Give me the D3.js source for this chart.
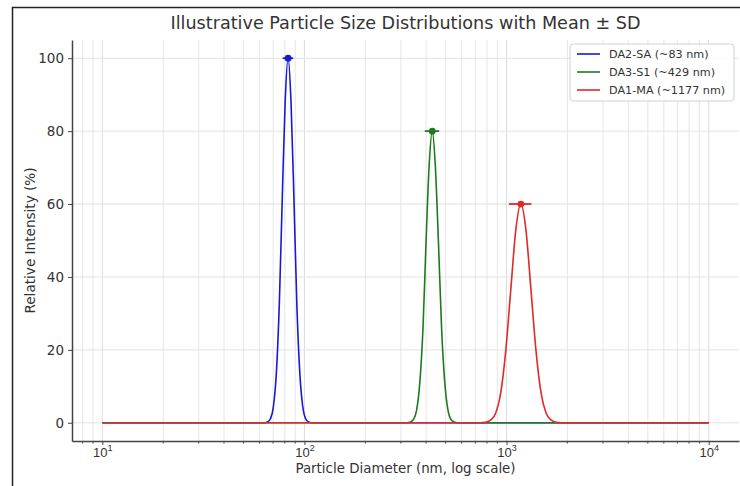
<!DOCTYPE html>
<html>
<head>
<meta charset="utf-8">
<script src="https://cdn.jsdelivr.net/npm/d3@7"></script>
<style>
  body { margin: 0; background: #fff; }
  svg { font-family: "DejaVu Sans", sans-serif; }
</style>
</head>
<body>
<div id="chart"></div>
<script>
// series names and colors
const seriesNames = ["DA2-SA (~83 nm)", "DA3-S1 (~429 nm)", "DA1-MA (~1177 nm)"];
const seriesColors = ["#1818d6", "#1f7a1f", "#e02828"];

// mean and SD (nm) for each peak
const means = [83, 429, 1177];
const sds = [5, 35, 150];
const peaks = [100, 80, 60];

// curve points: diameter (nm) and intensity (%)
const blueD = [10, 60, 63.6, 65.7, 67.9, 70.2, 72.6, 75.1, 77.6, 80.3, 83, 85.8, 88.8, 91.7, 94.9, 98.1, 101.4, 104.8, 108.4, 115, 10000];
const blueY = [0, 0, 0, 0.2, 1.1, 4.4, 13.5, 32.5, 60.7, 88.2, 100, 88.2, 60.7, 32.5, 13.5, 4.4, 1.1, 0.2, 0, 0, 0];

const greenD = [10, 300, 322, 334, 346, 359, 372, 386, 399, 414, 429, 444, 461, 477, 495, 513, 531, 551, 571, 600, 10000];
const greenY = [0, 0, 0, 0.2, 0.9, 3.5, 10.8, 26.0, 48.5, 70.6, 80, 70.6, 48.5, 26.0, 10.8, 3.5, 0.9, 0.2, 0, 0, 0];

const redD = [10, 700, 743, 787, 833, 883, 935, 990, 1049, 1111, 1177, 1247, 1321, 1400, 1482, 1570, 1663, 1761, 1866, 2000, 10000];
const redY = [0, 0, 0, 0.1, 0.7, 2.6, 8.1, 19.5, 36.4, 52.9, 60, 52.9, 36.4, 19.5, 8.1, 2.6, 0.7, 0.1, 0, 0, 0];

const yTicks = [0, 20, 40, 60, 80, 100];
const xMajor = [10, 100, 1000, 10000];
const xExp = ["1", "2", "3", "4"];

const width = 740, height = 486;
const margin = { top: 40, right: 1, bottom: 45, left: 72 };

const svg = d3.select("#chart").append("svg")
  .attr("width", width)
  .attr("height", height);

// outer frame (top and left)
svg.append("path")
  .attr("d", "M12.5,486 L12.5,7.5 L740,7.5")
  .attr("fill", "none")
  .attr("stroke", "#222")
  .attr("stroke-width", 1.5);

const x = d3.scaleLog()
  .domain([Math.pow(10, 0.85), Math.pow(10, 4.15)])
  .range([margin.left, width - margin.right]);
const y = d3.scaleLinear()
  .domain([-5, 105])
  .range([height - margin.bottom, margin.top]);

// minor tick values 2..9 x 10^k inside the domain
const xMinor = [];
for (let k = 0; k <= 4; k++) {
  for (let m = 2; m <= 9; m++) {
    const v = m * Math.pow(10, k);
    if (v > x.domain()[0] && v < x.domain()[1]) xMinor.push(v);
  }
}

// grid
const grid = svg.append("g");
grid.selectAll("line.minor").data(xMinor).join("line")
  .attr("x1", d => x(d)).attr("x2", d => x(d))
  .attr("y1", y.range()[1]).attr("y2", y.range()[0])
  .attr("stroke", "#e6e6e6").attr("stroke-width", 1);
grid.selectAll("line.major").data(xMajor).join("line")
  .attr("x1", d => x(d)).attr("x2", d => x(d))
  .attr("y1", y.range()[1]).attr("y2", y.range()[0])
  .attr("stroke", "#dcdcdc").attr("stroke-width", 1);
grid.selectAll("line.h").data(yTicks).join("line")
  .attr("x1", x.range()[0]).attr("x2", x.range()[1])
  .attr("y1", d => y(d)).attr("y2", d => y(d))
  .attr("stroke", "#e2e2e2").attr("stroke-width", 1);

// curves
const line = d3.line()
  .x(d => x(d[0]))
  .y(d => y(d[1]))
  .curve(d3.curveMonotoneX);

const curves = [
  d3.zip(blueD, blueY),
  d3.zip(greenD, greenY),
  d3.zip(redD, redY)
];

svg.append("g").selectAll("path").data(curves).join("path")
  .attr("d", line)
  .attr("fill", "none")
  .attr("stroke", (d, i) => seriesColors[i])
  .attr("stroke-width", 1.6);

// mean +/- SD markers
const eb = svg.append("g");
means.forEach((m, i) => {
  const g = eb.append("g");
  const yy = y(peaks[i]);
  g.append("line")
    .attr("x1", x(m - sds[i])).attr("x2", x(m + sds[i]))
    .attr("y1", yy).attr("y2", yy)
    .attr("stroke", seriesColors[i]).attr("stroke-width", 1.8);
  g.append("circle")
    .attr("cx", x(m)).attr("cy", yy).attr("r", 3.4)
    .attr("fill", seriesColors[i]);
});

// axes
const xAxis = svg.append("g")
  .attr("transform", `translate(0,${y.range()[0]})`)
  .call(d3.axisBottom(x).tickValues(xMajor).tickSize(4).tickSizeOuter(0).tickFormat(""));
xAxis.select(".domain").attr("stroke", "#444").attr("stroke-width", 1.5);
xAxis.selectAll(".tick line").attr("stroke", "#444");
xAxis.selectAll(".tick").append("text")
  .attr("y", 15.5)
  .attr("fill", "#333")
  .attr("font-size", 13)
  .attr("text-anchor", "middle")
  .each(function (d, i) {
    const t = d3.select(this);
    t.append("tspan").text("10");
    t.append("tspan").attr("dy", -6).attr("font-size", 9).text(xExp[i]);
  });

svg.append("g")
  .attr("transform", `translate(0,${y.range()[0]})`)
  .selectAll("line").data(xMinor).join("line")
  .attr("x1", d => x(d)).attr("x2", d => x(d))
  .attr("y1", 0).attr("y2", 2.5)
  .attr("stroke", "#444");

const yAxis = svg.append("g")
  .attr("transform", `translate(${x.range()[0]},0)`)
  .call(d3.axisLeft(y).tickValues(yTicks).tickSize(4).tickSizeOuter(0).tickPadding(4));
yAxis.select(".domain").attr("stroke", "#444").attr("stroke-width", 1.5);
yAxis.selectAll(".tick line").attr("stroke", "#444");
yAxis.selectAll(".tick text")
  .attr("fill", "#333")
  .attr("font-size", 13.5)
  .attr("font-family", "DejaVu Sans, sans-serif");

// title and labels
const cx = (x.range()[0] + x.range()[1]) / 2;
svg.append("text")
  .attr("x", cx).attr("y", 29)
  .attr("text-anchor", "middle")
  .attr("font-size", 17.6)
  .attr("fill", "#333")
  .text("Illustrative Particle Size Distributions with Mean ± SD");

svg.append("text")
  .attr("x", cx).attr("y", 473)
  .attr("text-anchor", "middle")
  .attr("font-size", 13.4)
  .attr("fill", "#333")
  .text("Particle Diameter (nm, log scale)");

svg.append("text")
  .attr("transform", `translate(35,${(y.range()[0] + y.range()[1]) / 2}) rotate(-90)`)
  .attr("text-anchor", "middle")
  .attr("font-size", 13.6)
  .attr("fill", "#333")
  .text("Relative Intensity (%)");

// legend
const legend = svg.append("g").attr("transform", "translate(570,44)");
legend.append("rect")
  .attr("width", 164).attr("height", 57)
  .attr("rx", 3)
  .attr("fill", "rgba(255,255,255,0.85)")
  .attr("stroke", "#d0d0d0");
seriesNames.forEach((name, i) => {
  const ly = 10 + i * 18;
  legend.append("line")
    .attr("x1", 7).attr("x2", 30)
    .attr("y1", ly).attr("y2", ly)
    .attr("stroke", seriesColors[i]).attr("stroke-width", 1.6);
  legend.append("text")
    .attr("x", 39).attr("y", ly + 4)
    .attr("font-size", 11.2)
    .attr("fill", "#333")
    .text(name);
});
</script>
</body>
</html>
